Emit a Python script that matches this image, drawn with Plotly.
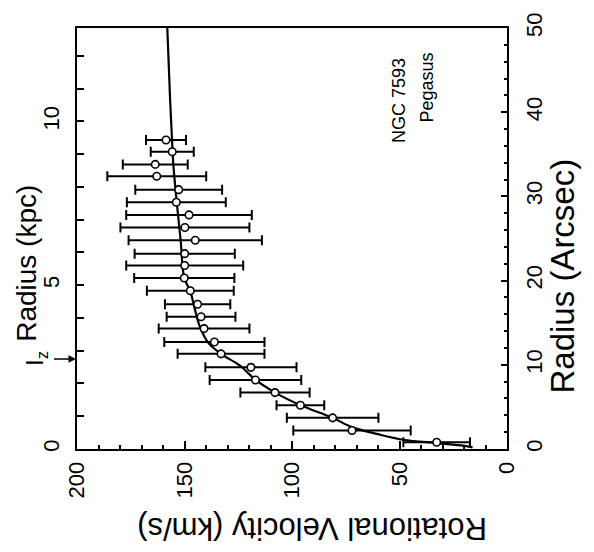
import plotly.graph_objects as go

# Observed points: radius (arcsec), rotational velocity (km/s), half error (km/s)
radius_arcsec = [0.8, 2.2, 3.7, 5.2, 6.7, 8.2, 9.7, 11.3, 12.7, 14.3, 15.7, 17.2, 18.8,
                 20.3, 21.8, 23.2, 24.8, 26.3, 27.8, 29.3, 30.8, 32.4, 33.8, 35.3, 36.7]
velocity = [32.7, 72.1, 81.1, 96.1, 107.9, 117.0, 119.1, 133.0, 136.1, 140.9, 142.3, 143.9, 147.3,
            150.1, 149.9, 149.9, 145.0, 149.8, 147.9, 153.8, 152.7, 162.9, 163.6, 155.7, 158.6]
vel_err = [15.5, 27.3, 21.3, 11.1, 16.1, 21.3, 21.2, 20.2, 23.3, 21.1, 16.0, 15.2, 20.2,
           23.3, 27.2, 23.3, 31.0, 30.0, 29.2, 23.0, 20.2, 23.0, 15.1, 10.0, 9.3]

# Model rotation curve
curve_r = [0.2, 0.4, 0.7, 1.1, 1.8, 2.6, 3.7, 5.2, 6.7, 8.2, 9.9, 11.3, 12.6, 14.5, 16.5,
           18.8, 20.3, 24.8, 29.3, 33.8, 36.7, 41.5, 50.0]
curve_v = [16.0, 20.3, 32.7, 48.2, 60.6, 72.1, 81.1, 96.0, 107.9, 116.9, 124.2, 133.0, 138.9,
           142.8, 145.1, 147.4, 150.1, 151.8, 153.6, 155.2, 155.8, 156.7, 158.0]

vel_ticks = [200, 150, 100, 50, 0]
kpc_ticks = [0, 5, 10]
arcsec_ticks = [0, 10, 20, 30, 40, 50]
arcsec_per_kpc = 3.89
iz_kpc = 2.75

FONT = "Liberation Sans, Arial, Helvetica, sans-serif"

# plot frame in pixels (for placing free text)
L, R, T, B = 77, 507, 17, 449


def px(x):
    return (x - L) / (R - L)


def py(y):
    return (B - y) / (B - T)


fig = go.Figure()
fig.add_trace(go.Scatter(
    x=curve_v, y=curve_r, mode="lines", line=dict(color="black", width=2.2, shape="spline"),
    xaxis="x", yaxis="y2", showlegend=False, hoverinfo="skip"))
fig.add_trace(go.Scatter(
    x=velocity, y=radius_arcsec, mode="markers",
    marker=dict(symbol="circle", size=7.5, color="white", line=dict(color="black", width=1.6)),
    error_x=dict(type="data", array=vel_err, color="black", thickness=2, width=5),
    xaxis="x", yaxis="y2", showlegend=False))

axis_common = dict(showgrid=False, zeroline=False, showline=True, linecolor="black",
                   linewidth=2, ticks="inside", tickcolor="black", tickwidth=1.5,
                   tickangle=-90, tickfont=dict(family=FONT, size=22, color="black"))

fig.update_layout(
    width=594, height=552,
    margin=dict(l=L, r=594 - R, t=T, b=552 - B),
    paper_bgcolor="white", plot_bgcolor="white",
    font=dict(family=FONT, color="black"),
    xaxis=dict(range=[200, 0], tickvals=vel_ticks, ticklen=8, mirror=True,
               minor=dict(dtick=10, ticklen=4, ticks="inside", tickcolor="black", tickwidth=1.5),
               ticklabelstandoff=2, **axis_common),
    yaxis=dict(range=[0, 50 / arcsec_per_kpc], tickvals=kpc_ticks, ticklen=7,
               minor=dict(dtick=1, ticklen=7, ticks="inside", tickcolor="black", tickwidth=1.5),
               ticklabelstandoff=7, **axis_common),
    yaxis2=dict(range=[0, 50], tickvals=arcsec_ticks, ticklen=6, side="right",
                overlaying="y",
                minor=dict(dtick=2, ticklen=3, ticks="inside", tickcolor="black", tickwidth=1.5),
                ticklabelstandoff=7, **axis_common),
)


def txt(text, x, y, size, angle):
    fig.add_annotation(text=text, x=px(x), y=py(y), xref="paper", yref="paper",
                       xanchor="center", yanchor="middle", textangle=angle,
                       showarrow=False, font=dict(size=size, family=FONT, color="black"))


txt("Rotational Velocity (km/s)", 312, 530, 31, 180)
txt("Radius (kpc)", 27, 259, 28, -90)
txt("Radius (Arcsec)", 563, 272, 33, -90)
txt("NGC 7593", 399, 92, 18, -90)
txt("Pegasus", 427, 78, 18, -90)

fig.add_annotation(text="I<sub>z</sub>", x=0, y=iz_kpc, xref="paper", yref="y",
                   ax=-40, ay=0, textangle=-90, showarrow=True, arrowhead=2, arrowsize=1,
                   arrowwidth=1.5, arrowcolor="black", standoff=1,
                   font=dict(size=24, family=FONT, color="black"))

fig.write_html("out.html")
